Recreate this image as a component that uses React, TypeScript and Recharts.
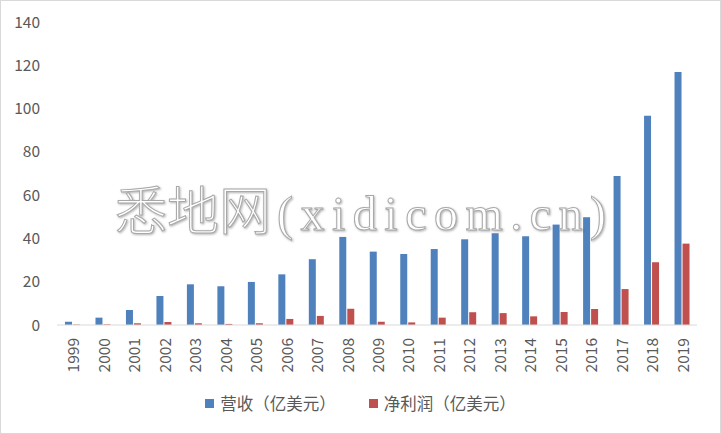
import { BarChart, Bar, XAxis, YAxis, Legend } from 'recharts';

const years = [
  '1999', '2000', '2001', '2002', '2003', '2004', '2005', '2006', '2007', '2008', '2009',
  '2010', '2011', '2012', '2013', '2014', '2015', '2016', '2017', '2018', '2019',
];
// 营收（亿美元）
const revenue = [
  1.5, 3.4, 6.9, 13.4, 18.8, 17.9, 19.9, 23.4, 30.4, 40.7, 33.9,
  32.8, 35.1, 39.6, 42.4, 41.0, 46.4, 49.8, 68.9, 96.7, 116.9,
];
// 净利润（亿美元）
const netProfit = [
  0.2, 0.3, 0.8, 1.4, 0.8, 0.5, 0.8, 2.8, 4.2, 7.5, 1.5,
  1.2, 3.4, 5.9, 5.5, 4.0, 6.0, 7.4, 16.6, 29.0, 37.6,
];
const yTicks = [0, 20, 40, 60, 80, 100, 120, 140];

const seriesNames = ['营收（亿美元）', '净利润（亿美元）'];
const BLUE = '#4F81BD';
const RED = '#C0504D';
const FONT = '"Noto Sans CJK SC", "Noto Sans", sans-serif';

const data = years.map((year, i) => ({
  year,
  revenue: revenue[i],
  netProfit: netProfit[i],
}));

function YearTick({ x, y, payload }: any) {
  const ty = y + 13;
  return (
    <text
      x={x}
      y={ty}
      transform={`rotate(-90, ${x}, ${ty})`}
      textAnchor="end"
      dominantBaseline="central"
      fill="#595959"
      fontSize={15.5}
      fontFamily={FONT}
    >
      {payload.value}
    </text>
  );
}

function LegendContent() {
  const items = [
    { name: seriesNames[0], color: BLUE },
    { name: seriesNames[1], color: RED },
  ];
  return (
    <div
      style={{
        display: 'flex',
        justifyContent: 'center',
        alignItems: 'center',
        height: 30,
        fontFamily: FONT,
        fontSize: 16.5,
        color: '#595959',
      }}
    >
      {items.map((it, i) => (
        <div key={it.name} style={{ display: 'flex', alignItems: 'center', marginLeft: i ? 33 : 0 }}>
          <span style={{ width: 9, height: 9, background: it.color, marginRight: 6, display: 'inline-block' }} />
          <span>{it.name}</span>
        </div>
      ))}
    </div>
  );
}

export default function App() {
  return (
    <div style={{ position: 'absolute', left: 0, top: 0, width: 721, height: 434, background: '#fff' }}>
      <BarChart
        width={721}
        height={434}
        data={data}
        margin={{ top: 22, right: 24, left: 0, bottom: 16 }}
        barSize={7}
        barGap={1}
      >
        <XAxis
          dataKey="year"
          axisLine={{ stroke: '#D9D9D9' }}
          tickLine={false}
          tickSize={0}
          tickMargin={0}
          interval={0}
          height={63}
          tick={<YearTick />}
        />
        <YAxis
          domain={[0, 140]}
          ticks={yTicks}
          width={57}
          axisLine={false}
          tickLine={false}
          tickSize={0}
          tickMargin={17}
          tick={{ fill: '#595959', fontSize: 15.5, fontFamily: FONT }}
        />
        <Legend
          verticalAlign="bottom"
          height={30}
          content={<LegendContent />}
          wrapperStyle={{ left: 0, width: 721 }}
        />
        <Bar dataKey="revenue" name={seriesNames[0]} fill={BLUE} isAnimationActive={false} />
        <Bar dataKey="netProfit" name={seriesNames[1]} fill={RED} isAnimationActive={false} />
      </BarChart>
      <svg
        width={721}
        height={434}
        style={{ position: 'absolute', left: 0, top: 0, pointerEvents: 'none' }}
      >
        <text
          x={115}
          y={230}
          fill="#ffffff"
          stroke="#a8a8a8"
          strokeWidth={1}
          style={{ filter: 'drop-shadow(1px 1px 1px rgba(0,0,0,0.3))' }}
        >
          <tspan fontFamily={FONT} fontSize={52} fontWeight={300}>悉地网</tspan>
          <tspan dx={6} fontFamily='"Liberation Serif", serif' fontSize={48} letterSpacing={7.5}>(xidicom.cn)</tspan>
        </text>
      </svg>
      <div
        style={{
          position: 'absolute',
          left: 0,
          top: 0,
          width: 721,
          height: 434,
          boxSizing: 'border-box',
          border: '1px solid #D9D9D9',
          pointerEvents: 'none',
        }}
      />
    </div>
  );
}
